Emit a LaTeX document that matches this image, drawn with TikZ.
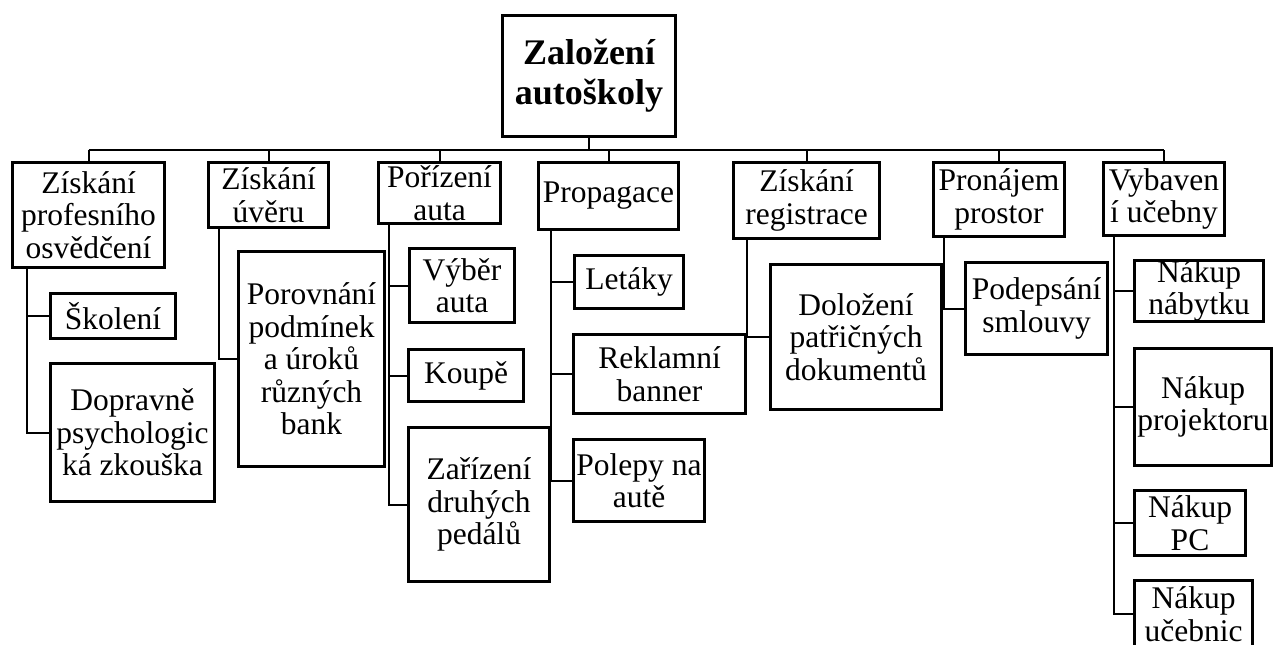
\documentclass[tikz,border=0pt]{standalone}
\usepackage{fontspec}
\setmainfont{Liberation Serif}
\tikzset{
  bx/.style={draw, line width=3pt, inner sep=0pt, align=center, line join=miter,
    font=\fontsize{31.5}{32.5}\selectfont},
  rootbx/.style={bx, font=\fontsize{36}{40}\selectfont\bfseries},
  ln/.style={line width=2pt, line join=miter}
}
\begin{document}
\begin{tikzpicture}[x=1pt,y=-1pt]
\useasboundingbox (0,0) rectangle (1275,645);
\clip (0,0) rectangle (1275,645);
\coordinate (bus) at (0,150);
% root
\node[rootbx, minimum width=173pt, minimum height=121pt] (R) at (589,76) {Založení\\autoškoly};
% level 1
\node[bx, minimum width=152pt, minimum height=105pt] (B1) at (88.5,215) {Získání\\profesního\\osvědčení};
\node[bx, minimum width=120pt, minimum height=65pt] (B2) at (268.5,195) {Získání\\úvěru};
\node[bx, minimum width=122pt, minimum height=61pt] (B3) at (439.5,193) {Pořízení\\auta};
\node[bx, minimum width=140pt, minimum height=67pt] (B4) at (608.5,196) {Propagace};
\node[bx, minimum width=146pt, minimum height=76pt] (B5) at (806.5,200.5) {Získání\\registrace};
\node[bx, minimum width=131pt, minimum height=74pt] (B6) at (999,199.5) {Pronájem\\prostor};
\node[bx, minimum width=121pt, minimum height=73pt] (B7) at (1164,199) {Vybaven\\í učebny};
% level 2
\node[bx, minimum width=125pt, minimum height=45pt] (C11) at (113,316) {Školení};
\node[bx, minimum width=164pt, minimum height=138pt] (C12) at (132.5,432.5) {Dopravně\\psychologic\\ká zkouška};
\node[bx, minimum width=146pt, minimum height=215pt] (C21) at (311.5,359) {Porovnání\\podmínek\\a úroků\\různých\\bank};
\node[bx, minimum width=105pt, minimum height=74pt] (C31) at (462,285.5) {Výběr\\auta};
\node[bx, minimum width=115pt, minimum height=52pt] (C32) at (466,375.5) {Koupě};
\node[bx, minimum width=141pt, minimum height=154pt] (C33) at (479,504.5) {Zařízení\\druhých\\pedálů};
\node[bx, minimum width=109pt, minimum height=53pt] (C41) at (629,282) {Letáky};
\node[bx, minimum width=172pt, minimum height=79pt] (C42) at (659.5,374) {Reklamní\\banner};
\node[bx, minimum width=131pt, minimum height=82pt] (C43) at (639,480.5) {Polepy na\\autě};
\node[bx, minimum width=171pt, minimum height=145pt] (C51) at (856,337) {Doložení\\patřičných\\dokumentů};
\node[bx, minimum width=142pt, minimum height=92pt] (C61) at (1036.5,308.5) {Podepsání\\smlouvy};
\node[bx, minimum width=129pt, minimum height=61pt] (C71) at (1199,291) {Nákup\\nábytku};
\node[bx, minimum width=137pt, minimum height=117pt] (C72) at (1203,407) {Nákup\\projektoru};
\node[bx, minimum width=111pt, minimum height=65pt] (C73) at (1190,523) {Nákup\\PC};
\node[bx, minimum width=118pt, minimum height=67pt] (C74) at (1193.5,614) {Nákup\\učebnic};
% bus
\draw[ln] (R.south) -- (R.south |- bus);
\draw[ln] (B1.north |- bus) -- (B7.north |- bus);
\foreach \b in {B1,B2,B3,B4,B5,B6,B7}{
  \draw[ln] (\b.north) -- (\b.north |- bus);
}
% children connectors
\draw[ln] ([xshift=15.5pt]B1.south west) |- (C11.west);
\draw[ln] ([xshift=15.5pt]B1.south west) |- (C12.west);
\draw[ln] ([xshift=11.5pt]B2.south west) |- (C21.west);
\draw[ln] ([xshift=11.5pt]B3.south west) |- (C31.west);
\draw[ln] ([xshift=11.5pt]B3.south west) |- (C32.west);
\draw[ln] ([xshift=11.5pt]B3.south west) |- (C33.west);
\draw[ln] ([xshift=13.5pt]B4.south west) |- (C41.west);
\draw[ln] ([xshift=13.5pt]B4.south west) |- (C42.west);
\draw[ln] ([xshift=13.5pt]B4.south west) |- (C43.west);
\draw[ln] ([xshift=14.5pt]B5.south west) |- (C51.west);
\draw[ln] ([xshift=11.5pt]B6.south west) |- (C61.west);
\draw[ln] ([xshift=11.5pt]B7.south west) |- (C71.west);
\draw[ln] ([xshift=11.5pt]B7.south west) |- (C72.west);
\draw[ln] ([xshift=11.5pt]B7.south west) |- (C73.west);
\draw[ln] ([xshift=11.5pt]B7.south west) |- (C74.west);
\end{tikzpicture}
\end{document}
